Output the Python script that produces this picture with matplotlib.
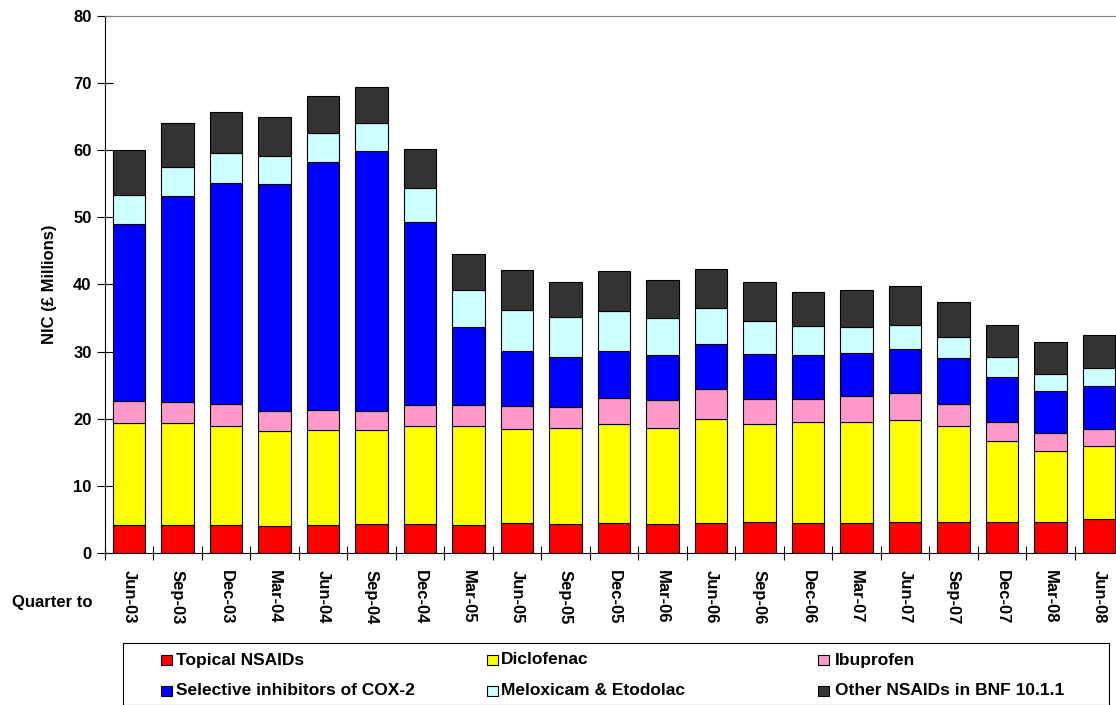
'''
NSAIDs NIC by quarter - stacked bars
'''
import numpy as np
import matplotlib.pyplot as plt
from matplotlib.patches import Rectangle

plt.rcParams['font.family'] = ['Liberation Sans', 'DejaVu Sans']
plt.rcParams['font.weight'] = 'bold'
plt.rcParams['axes.labelweight'] = 'bold'

quarters = ['Jun-03', 'Sep-03', 'Dec-03', 'Mar-04', 'Jun-04', 'Sep-04', 'Dec-04',
            'Mar-05', 'Jun-05', 'Sep-05', 'Dec-05', 'Mar-06', 'Jun-06', 'Sep-06',
            'Dec-06', 'Mar-07', 'Jun-07', 'Sep-07', 'Dec-07', 'Mar-08', 'Jun-08']

topical = [4.1, 4.2, 4.1, 4.0, 4.2, 4.3, 4.3, 4.1, 4.4, 4.3, 4.4, 4.3, 4.5, 4.6,
           4.5, 4.5, 4.6, 4.6, 4.6, 4.6, 5.1]
diclofenac = [15.3, 15.2, 14.8, 14.2, 14.1, 14.0, 14.6, 14.8, 14.0, 14.3, 14.8, 14.3,
              15.4, 14.6, 15.0, 15.0, 15.2, 14.3, 12.1, 10.6, 10.8]
ibuprofen = [3.2, 3.1, 3.3, 3.0, 3.0, 2.9, 3.2, 3.2, 3.5, 3.1, 3.9, 4.2, 4.5, 3.8,
             3.4, 3.9, 4.0, 3.3, 2.8, 2.6, 2.6]
cox2 = [26.4, 30.7, 32.9, 33.7, 36.9, 38.6, 27.2, 11.6, 8.2, 7.5, 7.0, 6.7, 6.7, 6.7,
        6.6, 6.4, 6.6, 6.8, 6.7, 6.3, 6.4]
meloxicam = [4.3, 4.3, 4.4, 4.2, 4.3, 4.2, 5.1, 5.4, 6.1, 6.0, 6.0, 5.5, 5.4, 4.8,
             4.3, 3.9, 3.6, 3.2, 3.0, 2.6, 2.6]
other = [6.7, 6.5, 6.2, 5.8, 5.6, 5.4, 5.7, 5.4, 5.9, 5.1, 5.9, 5.7, 5.8, 5.8,
         5.0, 5.4, 5.8, 5.2, 4.7, 4.7, 5.0]

series = [topical, diclofenac, ibuprofen, cox2, meloxicam, other]
names = ['Topical NSAIDs', 'Diclofenac', 'Ibuprofen',
         'Selective inhibitors of COX-2', 'Meloxicam & Etodolac', 'Other NSAIDs in BNF 10.1.1']
colors = ['#FF0000', '#FFFF00', '#FF99CC', '#0000FF', '#CCFFFF', '#333333']

fig = plt.figure(figsize=(11.16, 7.05), dpi=100)
W, H = 1116., 705.
ax = fig.add_axes([104.75 / W, (H - 553) / H, (1123.25 - 104.75) / W, (553 - 15.7) / H])

x = np.arange(len(quarters))
bottom = np.zeros(len(quarters))
for vals, c in zip(series, colors):
    ax.bar(x, vals, 0.667, bottom=bottom, color=c, edgecolor='black', linewidth=0.8)
    bottom += np.array(vals)

ax.set_xlim(-0.5, len(quarters) - 0.5)
ax.set_ylim(0, 80)
ax.set_yticks(range(0, 81, 10))
ax.tick_params(axis='y', direction='inout', length=11, width=0.8, labelsize=12, pad=4)
for lab in ax.get_yticklabels():
    lab.set_fontweight('bold')
ax.set_xticks(x)
ax.set_xticklabels(quarters, rotation=-90, fontsize=12, fontweight='bold')
ax.tick_params(axis='x', which='major', length=0, pad=12)
ax.set_xticks(np.arange(len(quarters) + 1) - 0.5, minor=True)
ax.tick_params(axis='x', which='minor', direction='inout', length=10, width=0.8)
for lab in ax.get_xticklabels():
    lab.set_va('top')
ax.set_ylabel('NIC (£ Millions)', fontsize=12, fontweight='bold', labelpad=12)
ax.spines['top'].set_color('#808080')
ax.spines['right'].set_color('#808080')
ax.spines['left'].set_linewidth(0.8)
ax.spines['bottom'].set_linewidth(0.8)

fig.text(12 / W, 1 - 603 / H, 'Quarter to', fontsize=12, fontweight='bold',
         va='center', ha='left')

# legend box, laid out like the original (3 columns, 2 rows)
fig.patches.append(Rectangle((123 / W, 0.5 / H), (1109 - 123) / W, (705 - 643 - 0.5) / H,
                             transform=fig.transFigure, facecolor='white',
                             edgecolor='black', linewidth=0.8))
mark_x = [161, 487, 818]
text_x = [176, 501, 835]
row_y = [660, 690.5]
for k in range(6):
    r, col = k // 3, k % 3
    fig.patches.append(Rectangle((mark_x[col] / W, 1 - (row_y[r] + 5) / H), 11 / W, 10 / H,
                                 transform=fig.transFigure, facecolor=colors[k],
                                 edgecolor='black', linewidth=0.8))
    fig.text(text_x[col] / W, 1 - row_y[r] / H, names[k], fontsize=12.5,
             fontweight='bold', va='center', ha='left')

plt.savefig('out.png', dpi=100)
